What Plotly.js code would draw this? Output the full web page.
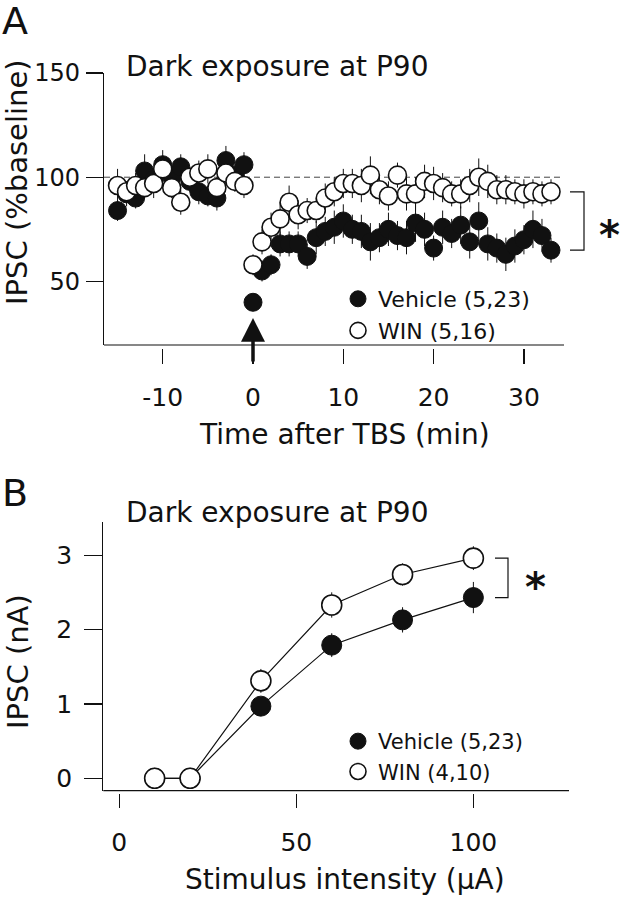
<!DOCTYPE html>
<html>
<head>
<meta charset="utf-8">
<script src="https://cdn.plot.ly/plotly-3.0.1.min.js"></script>
<style>
  html, body { margin: 0; padding: 0; background: #fff; }
  #chart { width: 621px; height: 900px; }
</style>
</head>
<body>
<div id="chart"></div>
<script>
// ---- Panel A: IPSC (% baseline) vs time after TBS ----
const timeA = [-15,-14,-13,-12,-11,-10,-9,-8,-7,-6,-5,-4,-3,-2,-1,
  0,1,2,3,4,5,6,7,8,9,10,11,12,13,14,15,16,17,18,19,20,21,22,23,24,25,26,27,28,29,30,31,32,33];
const vehicleA = [84,92,90,103,99,106,100,105,98,93,91,90,108,101,106,
  40,55,58,68,68,68,62,71,74,76,79,75,74,69,71,75,72,71,78,75,66,76,73,77,69,79,68,66,63,67,70,75,72,65];
const vehicleErrA = [5,6,5,8,5,7,5,6,5,6,5,6,7,5,6,
  4,5,5,6,6,6,6,8,7,8,8,7,8,9,7,8,7,8,9,8,6,8,7,9,8,9,8,7,8,8,7,9,8,6];
const winA = [96,93,96,95,97,104,95,88,100,102,104,95,102,98,96,
  58,69,76,80,88,82,84,84,90,93,97,97,96,101,94,91,101,92,92,98,97,95,92,92,96,100,98,94,94,93,92,93,92,93];
const winErrA = [8,5,6,5,7,6,5,6,5,6,7,5,6,5,6,
  5,6,7,8,8,7,6,6,7,7,7,7,8,9,7,7,6,8,8,8,8,7,6,7,8,9,8,7,7,6,7,6,6,6];
const xTickValsA = [-10, 0, 10, 20, 30];
const xTickTextA = ['-10', '0', '10', '20', '30'];
const yTickValsA = [50, 100, 150];
const namesA = ['Vehicle (5,23)', 'WIN (5,16)'];
const baselineLevel = 100;
const tbsTime = 0;

// ---- Panel B: IPSC (nA) vs stimulus intensity ----
const intensityB = [10, 20, 40, 60, 80, 100];
const vehicleB = [0, 0, 0.97, 1.79, 2.13, 2.43];
const vehicleErrB = [0, 0, 0.12, 0.16, 0.17, 0.21];
const winB = [0, 0, 1.31, 2.33, 2.74, 2.96];
const winErrB = [0, 0, 0.16, 0.17, 0.15, 0.16];
const xTickValsB = [0, 50, 100];
const yTickValsB = [0, 1, 2, 3];
const namesB = ['Vehicle (5,23)', 'WIN (4,10)'];

const W = 621, H = 900;
const px = v => v / W;        // pixel -> paper x
const py = v => 1 - v / H;    // pixel -> paper y
const FONT = 'DejaVu Sans, Verdana, sans-serif';
const INK = '#111';

function errBars(arr) {
  return {type: 'data', array: arr, visible: true, color: INK, thickness: 1, width: 0};
}
const filled = size => ({color: INK, size: size, line: {color: INK, width: 1}});
const open = size => ({color: '#fff', size: size, line: {color: INK, width: 1.6}});

const traces = [
  {x: timeA, y: vehicleA, error_y: errBars(vehicleErrA), type: 'scatter', mode: 'markers',
   marker: filled(18), name: namesA[0], xaxis: 'x', yaxis: 'y', legend: 'legend'},
  {x: timeA, y: winA, error_y: errBars(winErrA), type: 'scatter', mode: 'markers',
   marker: open(18), name: namesA[1], xaxis: 'x', yaxis: 'y', legend: 'legend'},

  {x: intensityB, y: vehicleB, type: 'scatter', mode: 'lines', line: {color: INK, width: 1.2},
   xaxis: 'x2', yaxis: 'y2', showlegend: false},
  {x: intensityB, y: winB, type: 'scatter', mode: 'lines', line: {color: INK, width: 1.2},
   xaxis: 'x2', yaxis: 'y2', showlegend: false},
  {x: intensityB, y: vehicleB, error_y: errBars(vehicleErrB), type: 'scatter', mode: 'markers',
   marker: filled(20), name: namesB[0], xaxis: 'x2', yaxis: 'y2', legend: 'legend2'},
  {x: intensityB, y: winB, error_y: errBars(winErrB), type: 'scatter', mode: 'markers',
   marker: open(20), name: namesB[1], xaxis: 'x2', yaxis: 'y2', legend: 'legend2'}
];

const tickStyle = {ticks: 'outside', tickwidth: 1.2, tickcolor: INK, showgrid: false,
  zeroline: false, fixedrange: true, tickfont: {size: 25, family: FONT, color: INK}};

const bracket = (x0, x1, yTop, yBot, yref) => ({
  type: 'path', xref: 'paper', yref: yref,
  path: `M${px(x0)},${yTop} L${px(x1)},${yTop} L${px(x1)},${yBot} L${px(x0)},${yBot}`,
  line: {color: INK, width: 1.2}
});

const txt = (text, x, y, size, extra) => Object.assign({
  text: text, xref: 'paper', yref: 'paper', x: px(x), y: py(y),
  xanchor: 'center', yanchor: 'middle', showarrow: false,
  font: {size: size, family: FONT, color: INK}
}, extra || {});

const layout = {
  width: W, height: H,
  margin: {l: 0, r: 0, t: 0, b: 0},
  paper_bgcolor: '#fff', plot_bgcolor: 'rgba(0,0,0,0)',
  font: {family: FONT, color: INK, size: 25},
  showlegend: true,

  xaxis: Object.assign({domain: [px(104), px(564)], range: [-16.5, 34.44], anchor: 'free',
    position: py(348), showline: false, ticklen: 15, tickvals: xTickValsA, ticktext: xTickTextA,
    ticklabelstandoff: 12}, tickStyle),
  yaxis: Object.assign({}, tickStyle, {domain: [py(345), py(73)], range: [19.5, 150], anchor: 'x',
    showline: true, linecolor: INK, linewidth: 1.2, ticklen: 17, tickvals: yTickValsA,
    ticklabelstandoff: 1, tickfont: {size: 24, family: FONT, color: INK}}),

  xaxis2: Object.assign({domain: [px(103.3), px(569)], range: [-4.5, 127], anchor: 'free',
    position: py(792.5), showline: false, ticklen: 14, tickvals: xTickValsB,
    ticklabelstandoff: 13}, tickStyle),
  yaxis2: Object.assign({domain: [py(790.7), py(521.7)], range: [-0.167, 3.45], anchor: 'x2',
    showline: true, linecolor: INK, linewidth: 1.2, ticklen: 18, tickvals: yTickValsB,
    ticklabelstandoff: 7}, tickStyle),

  legend: {x: px(338), xanchor: 'left', y: py(278), yanchor: 'top', bgcolor: 'rgba(0,0,0,0)',
    borderwidth: 0, font: {size: 22, family: FONT, color: INK}},
  legend2: {x: px(338), xanchor: 'left', y: py(721), yanchor: 'top', bgcolor: 'rgba(0,0,0,0)',
    borderwidth: 0, font: {size: 21, family: FONT, color: INK}},

  shapes: [
    {type: 'line', xref: 'x domain', yref: 'y domain', x0: 0, x1: 1, y0: 0, y1: 0,
     line: {color: INK, width: 1.2}},
    {type: 'line', xref: 'x2 domain', yref: 'y2 domain', x0: 0, x1: 1, y0: 0, y1: 0,
     line: {color: INK, width: 1.2}},
    {type: 'line', xref: 'x', yref: 'y', x0: -16.5, x1: 34, y0: baselineLevel, y1: baselineLevel,
     layer: 'below', line: {color: '#444', width: 1, dash: '6px,4px'}},
    bracket(570, 584, winA[winA.length - 1], vehicleA[vehicleA.length - 1], 'y'),
    bracket(495, 508, winB[winB.length - 1], vehicleB[vehicleB.length - 1], 'y2')
  ],

  annotations: [
    txt('A', 0, 21.5, 38, {xanchor: 'left'}),
    txt('B', 0, 493, 38, {xanchor: 'left'}),
    txt('Dark exposure at P90', 124, 67, 28, {xanchor: 'left'}),
    txt('Dark exposure at P90', 124, 512, 28, {xanchor: 'left'}),
    txt('Time after TBS (min)', 344.5, 434, 28),
    txt('Stimulus intensity (μA)', 344.5, 879, 28),
    txt('IPSC (%baseline)', 17.5, 182.5, 29, {textangle: -90}),
    txt('IPSC (nA)', 18, 662, 29, {textangle: -90}),
    txt('*', 609, 225, 40, {yshift: -10, font: {size: 40, family: FONT, color: INK, weight: 'bold'}}),
    txt('*', 535, 577, 40, {yshift: -10, font: {size: 40, family: FONT, color: INK, weight: 'bold'}}),
    {text: '', xref: 'x', yref: 'y', x: tbsTime, y: 32.5, ax: 0, ay: 45, showarrow: true,
     arrowhead: 2, arrowsize: 1.37, arrowwidth: 3.5, arrowcolor: INK, standoff: 0}
  ]
};

Plotly.newPlot('chart', traces, layout, {displayModeBar: false, staticPlot: true});
</script>
</body>
</html>
